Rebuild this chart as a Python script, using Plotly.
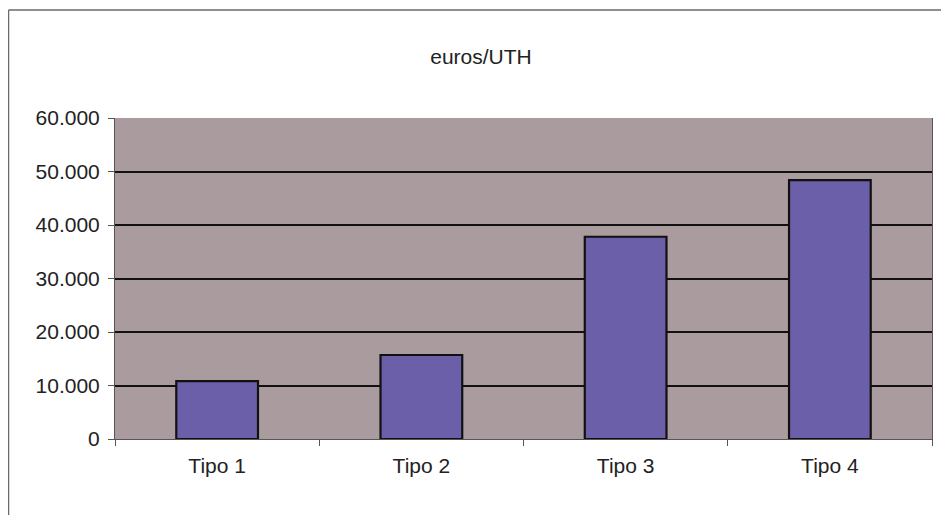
import plotly.graph_objects as go

categories = ["Tipo 1", "Tipo 2", "Tipo 3", "Tipo 4"]
values = [10800, 15700, 37800, 48400]
tick_vals = [0, 10000, 20000, 30000, 40000, 50000, 60000]
tick_text = ["0", "10.000", "20.000", "30.000", "40.000", "50.000", "60.000"]
title_text = "euros/UTH"

FONT = "Liberation Sans, Arial, sans-serif"
FS = 21
W, H = 941, 507
L, R, T, B = 107, 17, 110, 76
PW, PH = W - L - R, H - T - B

fig = go.Figure(
    go.Bar(
        x=categories,
        y=values,
        marker=dict(color="#6c5fa9", line=dict(color="#111111", width=2.2)),
        width=0.4,
    )
)

fig.update_layout(
    width=W,
    height=H,
    margin=dict(l=L, r=R, t=T, b=B),
    paper_bgcolor="white",
    plot_bgcolor="#a99b9e",
    showlegend=False,
    title=dict(
        text=title_text,
        x=473 / W,
        xref="container",
        xanchor="center",
        y=1 - 49 / H,
        yref="container",
        yanchor="middle",
        font=dict(family=FONT, size=FS, color="#222222"),
    ),
    font=dict(family=FONT, size=FS, color="#222222"),
    shapes=[
        dict(type="line", xref="paper", yref="paper",
             x0=-(L - 0.5) / PW, x1=2, y0=1 + (T - 2) / PH, y1=1 + (T - 2) / PH,
             line=dict(color="#6a6a6a", width=1.5)),
        dict(type="line", xref="paper", yref="paper",
             x0=-(L - 0.5) / PW, x1=-(L - 0.5) / PW, y0=-2, y1=1 + (T - 2) / PH,
             line=dict(color="#6a6a6a", width=1.5)),
    ],
)

fig.update_xaxes(
    type="category",
    tickson="boundaries",
    ticks="outside",
    ticklen=6,
    tickcolor="#555555",
    showline=True,
    linecolor="#555555",
    linewidth=1,
    mirror=False,
    showgrid=False,
    ticklabelstandoff=8,
    tickfont=dict(family=FONT, size=FS, color="#222222"),
)

fig.update_yaxes(
    range=[0, 60000],
    tickvals=tick_vals,
    ticktext=tick_text,
    ticks="outside",
    ticklen=6,
    tickcolor="#555555",
    showline=True,
    linecolor="#555555",
    linewidth=1,
    mirror=True,
    showgrid=True,
    gridcolor="#111111",
    gridwidth=2,
    zeroline=False,
    ticklabelstandoff=4,
    tickfont=dict(family=FONT, size=FS, color="#222222"),
)

fig.write_html("out.html")
